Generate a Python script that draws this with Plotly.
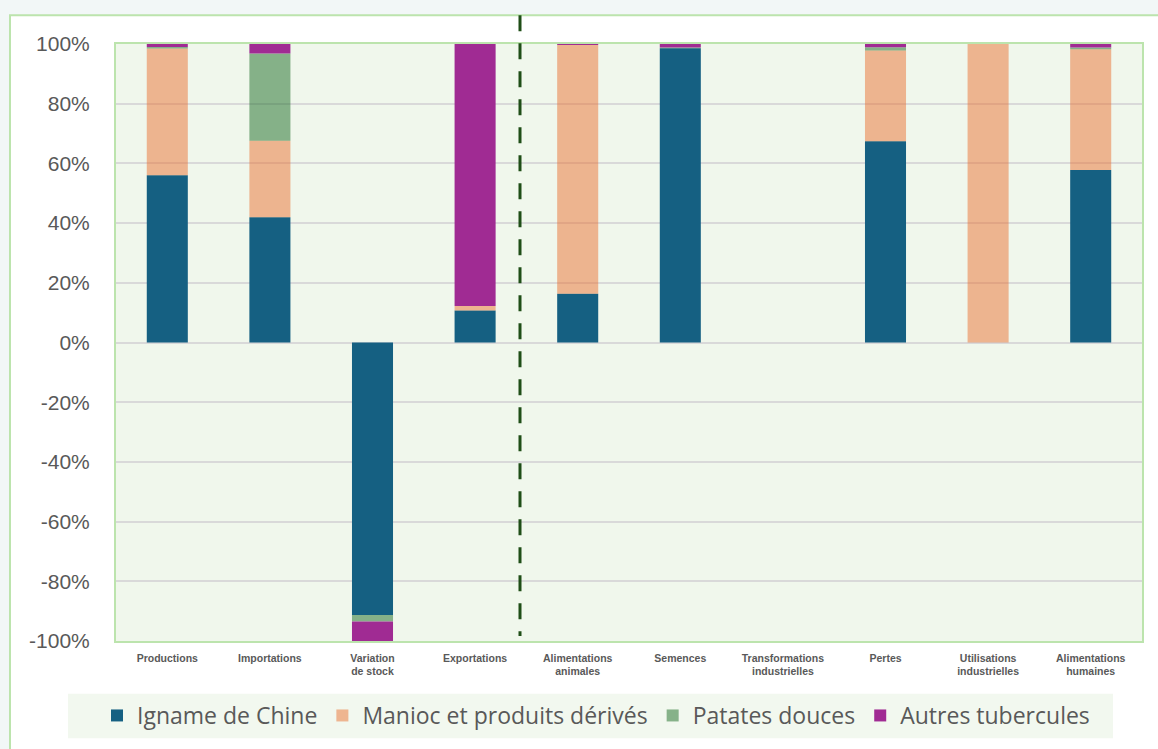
import plotly.graph_objects as go

categories = ["Productions", "Importations", "Variation<br>de stock", "Exportations",
              "Alimentations<br>animales", "Semences", "Transformations<br>industrielles",
              "Pertes", "Utilisations<br>industrielles", "Alimentations<br>humaines"]
igname = [56.0, 42.0, -91.3, 10.7, 16.3, 98.6, 0, 67.4, 0, 57.8]
manioc = [42.5, 25.6, 0, 1.5, 83.4, 0, 0, 30.4, 100, 40.4]
patates = [0.5, 29.2, -2.2, 0, 0, 0.2, 0, 1.1, 0, 0.6]
autres = [1.0, 3.2, -6.5, 87.8, 0.3, 1.2, 0, 1.1, 0, 1.2]
y_tickvals = [-100, -80, -60, -40, -20, 0, 20, 40, 60, 80, 100]
y_ticktext = ["-100%", "-80%", "-60%", "-40%", "-20%", "0%", "20%", "40%", "60%", "80%", "100%"]

series = [
    ("Igname de Chine", igname, "#156082"),
    ("Manioc et produits dérivés", manioc, "rgba(233,113,50,0.5)"),
    ("Patates douces", patates, "rgba(25,107,36,0.5)"),
    ("Autres tubercules", autres, "#A02B93"),
]

fig = go.Figure()
for name, vals, col in series:
    fig.add_trace(go.Bar(x=categories, y=vals, name=name, marker_color=col,
                         marker_line_width=0, width=0.4))

W, H = 1158, 749
L, R, T, B = 116, 16, 44, 104
pw, ph = W - L - R, H - T - B


def px(x):
    return (x - L) / pw


def py(y):
    return (H - B - y) / ph


GREEN_BORDER = "#BCE4AD"
FONT = "Liberation Sans, Arial, sans-serif"
shapes = [
    dict(type="rect", xref="paper", yref="paper", x0=px(10), x1=1.2, y0=-0.4, y1=py(15),
         fillcolor="white", line=dict(color=GREEN_BORDER, width=2), layer="below"),
    dict(type="rect", xref="paper", yref="paper", x0=0, x1=1, y0=0, y1=1,
         fillcolor="#F0F7EC", line=dict(width=0), layer="below"),
    dict(type="rect", xref="paper", yref="paper", x0=px(68), x1=px(1113), y0=py(743), y1=py(698),
         fillcolor="#F2F8EF", line=dict(width=0), layer="below"),
    dict(type="line", xref="paper", yref="paper", x0=px(520), x1=px(520), y0=py(15), y1=py(640),
         line=dict(color="#1F4E17", width=3, dash="16px,12px"), layer="above"),
]

fig.update_layout(
    width=W, height=H,
    autosize=False,
    margin=dict(l=L, r=R, t=T, b=B),
    paper_bgcolor="#F2F7F7",
    plot_bgcolor="rgba(0,0,0,0)",
    barmode="relative",
    bargap=0.6,
    shapes=shapes,
    showlegend=True,
    legend=dict(orientation="h", x=px(596), xanchor="center", y=py(720), yanchor="middle",
                bgcolor="rgba(0,0,0,0)",
                font=dict(family="Open Sans, Liberation Sans, sans-serif", size=23, color="#595959"),
                traceorder="normal"),
    font=dict(family=FONT, color="#595959"),
)
fig.update_xaxes(
    showgrid=False, showline=True, mirror=True, linecolor=GREEN_BORDER, linewidth=2,
    tickfont=dict(size=10.5, family=FONT, color="#595959", weight="bold"),
    ticks="", tickangle=0, ticklabelstandoff=6, zeroline=False,
)
fig.update_yaxes(
    range=[-100, 100], tickvals=y_tickvals, ticktext=y_ticktext,
    showgrid=True, gridcolor="#D9D9D9",
    gridwidth=1.5, zeroline=True, zerolinecolor="#D9D9D9", zerolinewidth=1.5,
    showline=True, mirror=True, linecolor=GREEN_BORDER, linewidth=2,
    tickfont=dict(size=21, family=FONT, color="#595959"),
    ticks="", ticklabelstandoff=20,
)

fig.write_html("out.html", config={"displayModeBar": False, "responsive": False},
               post_script="document.body.style.margin='0';document.body.style.overflow='hidden';")
